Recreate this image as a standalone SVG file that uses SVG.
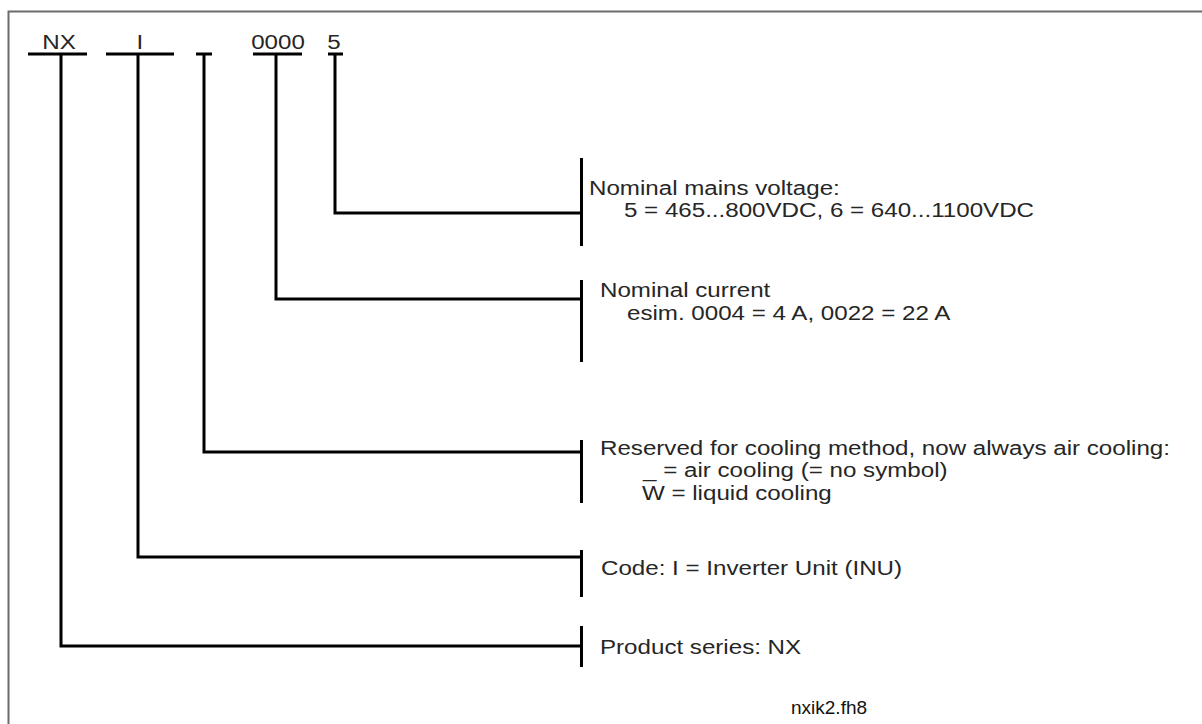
<svg xmlns="http://www.w3.org/2000/svg" width="1202" height="724" viewBox="0 0 1202 724">
<style>
.ln{stroke:#000;stroke-width:3;fill:none;stroke-linecap:butt}
.t{font-family:"Liberation Sans",Arial,sans-serif;font-size:21px;fill:#262626;transform-box:fill-box;transform-origin:0 0;transform:scaleX(1.15)}
.c{text-anchor:middle;transform-origin:50% 50%}
.s{font-family:"Liberation Sans",Arial,sans-serif;font-size:19px;fill:#111}
</style>
<rect x="0" y="0" width="1202" height="724" fill="#fff"/>
<path d="M8.5,724 V11.5 H1202" stroke="#6b6b6b" stroke-width="2" fill="none"/>
<g id="code">
<text class="t c" x="59" y="49">NX</text>
<text class="t c" x="140" y="49">I</text>
<text class="t c" x="278" y="49">0000</text>
<text class="t c" x="334" y="49">5</text>
<path class="ln" d="M28,54 H87 M106,54 H174 M196,54 H212 M253,54 H302 M328,54 H343"/>
</g>
<g id="connectors">
<path class="ln" d="M335,54 V213 H581.5"/>
<path class="ln" d="M276,54 V299 H581.5"/>
<path class="ln" d="M204,54 V452 H581.5"/>
<path class="ln" d="M138,54 V557 H581.5"/>
<path class="ln" d="M61,54 V646 H581.5"/>
</g>
<g id="voltage">
<path class="ln" d="M581.5,158 V246"/>
<text class="t" x="589" y="195">Nominal mains voltage:</text>
<text class="t" x="624" y="217">5 = 465...800VDC, 6 = 640...1100VDC</text>
</g>
<g id="current">
<path class="ln" d="M581.5,280 V362"/>
<text class="t" x="600" y="297">Nominal current</text>
<text class="t" x="627" y="320">esim. 0004 = 4 A, 0022 = 22 A</text>
</g>
<g id="cooling">
<path class="ln" d="M581.5,440 V503"/>
<text class="t" x="600" y="455">Reserved for cooling method, now always air cooling:</text>
<text class="t" x="643" y="477">_ = air cooling (= no symbol)</text>
<text class="t" x="642" y="500">W = liquid cooling</text>
</g>
<g id="inverter">
<path class="ln" d="M581.5,550 V597"/>
<text class="t" x="601" y="575">Code: I = Inverter Unit (INU)</text>
</g>
<g id="series">
<path class="ln" d="M581.5,626 V667"/>
<text class="t" x="600" y="654">Product series: NX</text>
</g>
<text id="file" class="s" x="791" y="714">nxik2.fh8</text>
</svg>
